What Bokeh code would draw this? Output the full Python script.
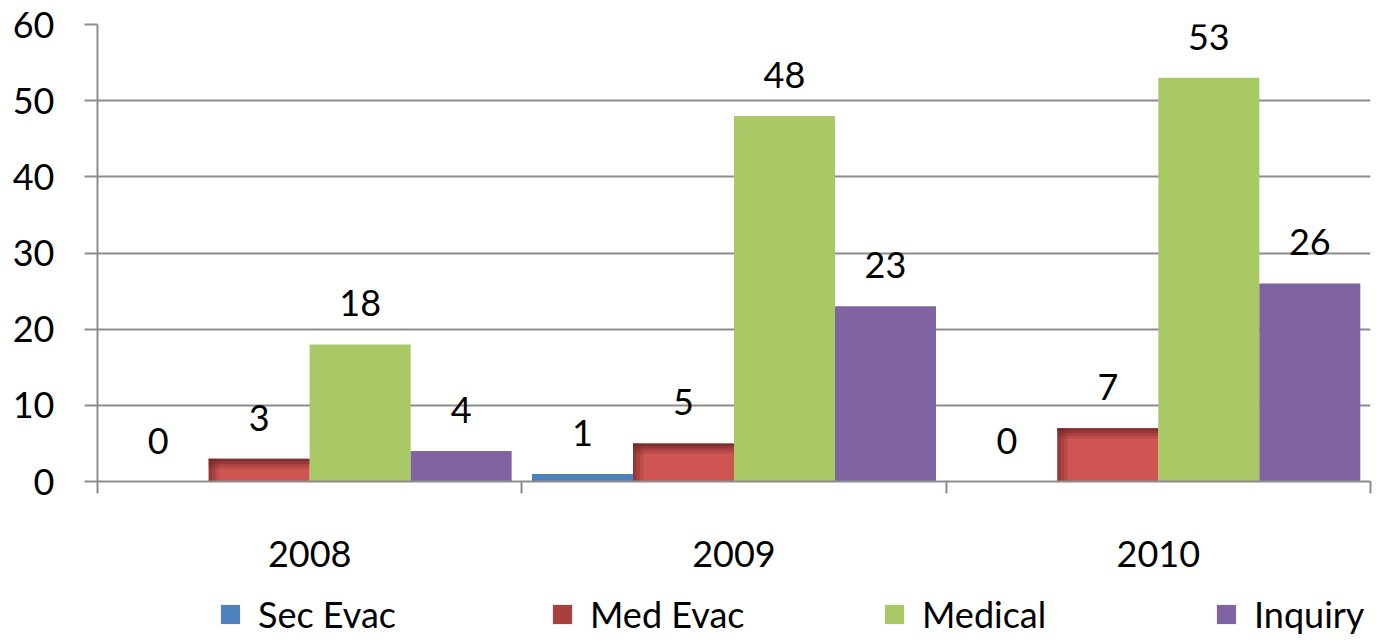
from bokeh.plotting import figure
from bokeh.layouts import column
from bokeh.models import Range1d, FixedTicker, ColumnDataSource, Legend, LegendItem
from bokeh.core.properties import value
from bokeh.embed import file_html
from bokeh.resources import INLINE

# ---- data ----
years = ["2008", "2009", "2010"]
series = ["Sec Evac", "Med Evac", "Medical", "Inquiry"]
sec_evac = [0, 1, 0]
med_evac = [3, 5, 7]
medical = [18, 48, 53]
inquiry = [4, 23, 26]
y_ticks = [0, 10, 20, 30, 40, 50, 60]

# ---- style ----
colors = ["#4F81BD", "#CF5553", "#A9C866", "#8064A2"]
swatch_colors = ["#4F81BD", "#A8403E", "#A9C866", "#8064A2"]
FONT = "Lato"
FS = "36px"
GRID = "#8c8c8c"
BW = 0.238
W = 1372

values = [sec_evac, med_evac, medical, inquiry]

p = figure(width=W, height=585, x_range=Range1d(0, 3), y_range=Range1d(0, 60),
           output_backend="svg", toolbar_location=None,
           min_border_left=97, min_border_right=2, min_border_top=24, min_border_bottom=104)
p.outline_line_color = None
p.xgrid.visible = False
p.ygrid.grid_line_color = GRID
p.ygrid.grid_line_width = 2
p.ygrid.ticker = FixedTicker(ticks=y_ticks)

# y axis
ya = p.yaxis[0]
ya.ticker = FixedTicker(ticks=y_ticks)
ya.axis_line_color = GRID
ya.axis_line_width = 2
ya.major_tick_line_color = GRID
ya.major_tick_line_width = 2
ya.major_tick_out = 13
ya.major_tick_in = 0
ya.minor_tick_line_color = None
ya.major_label_text_font = FONT
ya.major_label_text_font_size = FS
ya.major_label_text_color = "black"
ya.major_label_standoff = 30

# x axis: labels at category centres, tick marks at boundaries
xa = p.xaxis[0]
centres = [i + 0.5 for i in range(len(years))]
bounds = [i for i in range(len(years) + 1)]
xa.ticker = FixedTicker(ticks=centres, minor_ticks=bounds)
xa.major_label_overrides = {c: y for c, y in zip(centres, years)}
xa.axis_line_color = GRID
xa.axis_line_width = 2
xa.major_tick_line_color = None
xa.major_tick_out = 0
xa.major_tick_in = 0
xa.minor_tick_line_color = GRID
xa.minor_tick_line_width = 2
xa.minor_tick_out = 12
xa.minor_tick_in = 0
xa.major_label_text_font = FONT
xa.major_label_text_font_size = FS
xa.major_label_text_color = "black"
xa.major_label_standoff = 47

for k, (name, vals, col) in enumerate(zip(series, values, colors)):
    off = (k - 1.5) * BW
    xs = [i + 0.5 + off for i in range(len(years))]
    src = ColumnDataSource(dict(x=xs, top=vals, lbl=[str(v) for v in vals]))
    p.vbar(x="x", top="top", bottom=0, width=BW, source=src,
           fill_color=col, line_color=None)
    if name == "Med Evac":
        # bevel shading: darker graded top band and left edge
        for j, a in enumerate([0.85, 0.6, 0.35, 0.15]):
            band = ColumnDataSource(dict(x=xs, top=[max(v - 0.35 * j, 0) for v in vals],
                                         bottom=[max(v - 0.35 * (j + 1), 0) for v in vals]))
            p.vbar(x="x", top="top", bottom="bottom", width=BW, source=band,
                   fill_color="#6e2726", fill_alpha=a, line_color=None)
        for j, a in enumerate([0.6, 0.4, 0.2]):
            left = ColumnDataSource(dict(x=[x - BW / 2 + 0.004 + 0.008 * j for x in xs], top=vals))
            p.vbar(x="x", top="top", bottom=0, width=0.008, source=left,
                   fill_color="#6e2726", fill_alpha=a, line_color=None)
    p.text(x="x", y="top", text="lbl", source=src, text_align="center",
           text_baseline="middle", y_offset=-41, text_font=value(FONT),
           text_font_size=FS, text_color="black")

# legend strip (separate figure so the legend is not clipped)
lg = figure(width=W, height=55, x_range=Range1d(0, 1), y_range=Range1d(0, 1),
            output_backend="svg", toolbar_location=None,
            min_border_left=0, min_border_right=0, min_border_top=0, min_border_bottom=0)
lg.axis.visible = False
lg.grid.visible = False
lg.outline_line_color = None
items = []
for name, col in zip(series, swatch_colors):
    # zero-height bar: draws nothing, but gives the legend swatch its colour
    r = lg.vbar(x=[0.5], top=[0], bottom=0, width=0.1, fill_color=col, line_color=None)
    items.append(LegendItem(label=name, renderers=[r]))
legend = Legend(items=items, orientation="horizontal", location=(121, 4),
                glyph_width=24, glyph_height=24, label_standoff=16,
                label_width=260, spacing=32, padding=0, margin=0,
                border_line_color=None, background_fill_alpha=0,
                label_text_font=FONT, label_text_font_size=FS, label_text_color="black")
lg.add_layout(legend)

open("out.html", "w").write(file_html(column(p, lg, spacing=0), INLINE))
